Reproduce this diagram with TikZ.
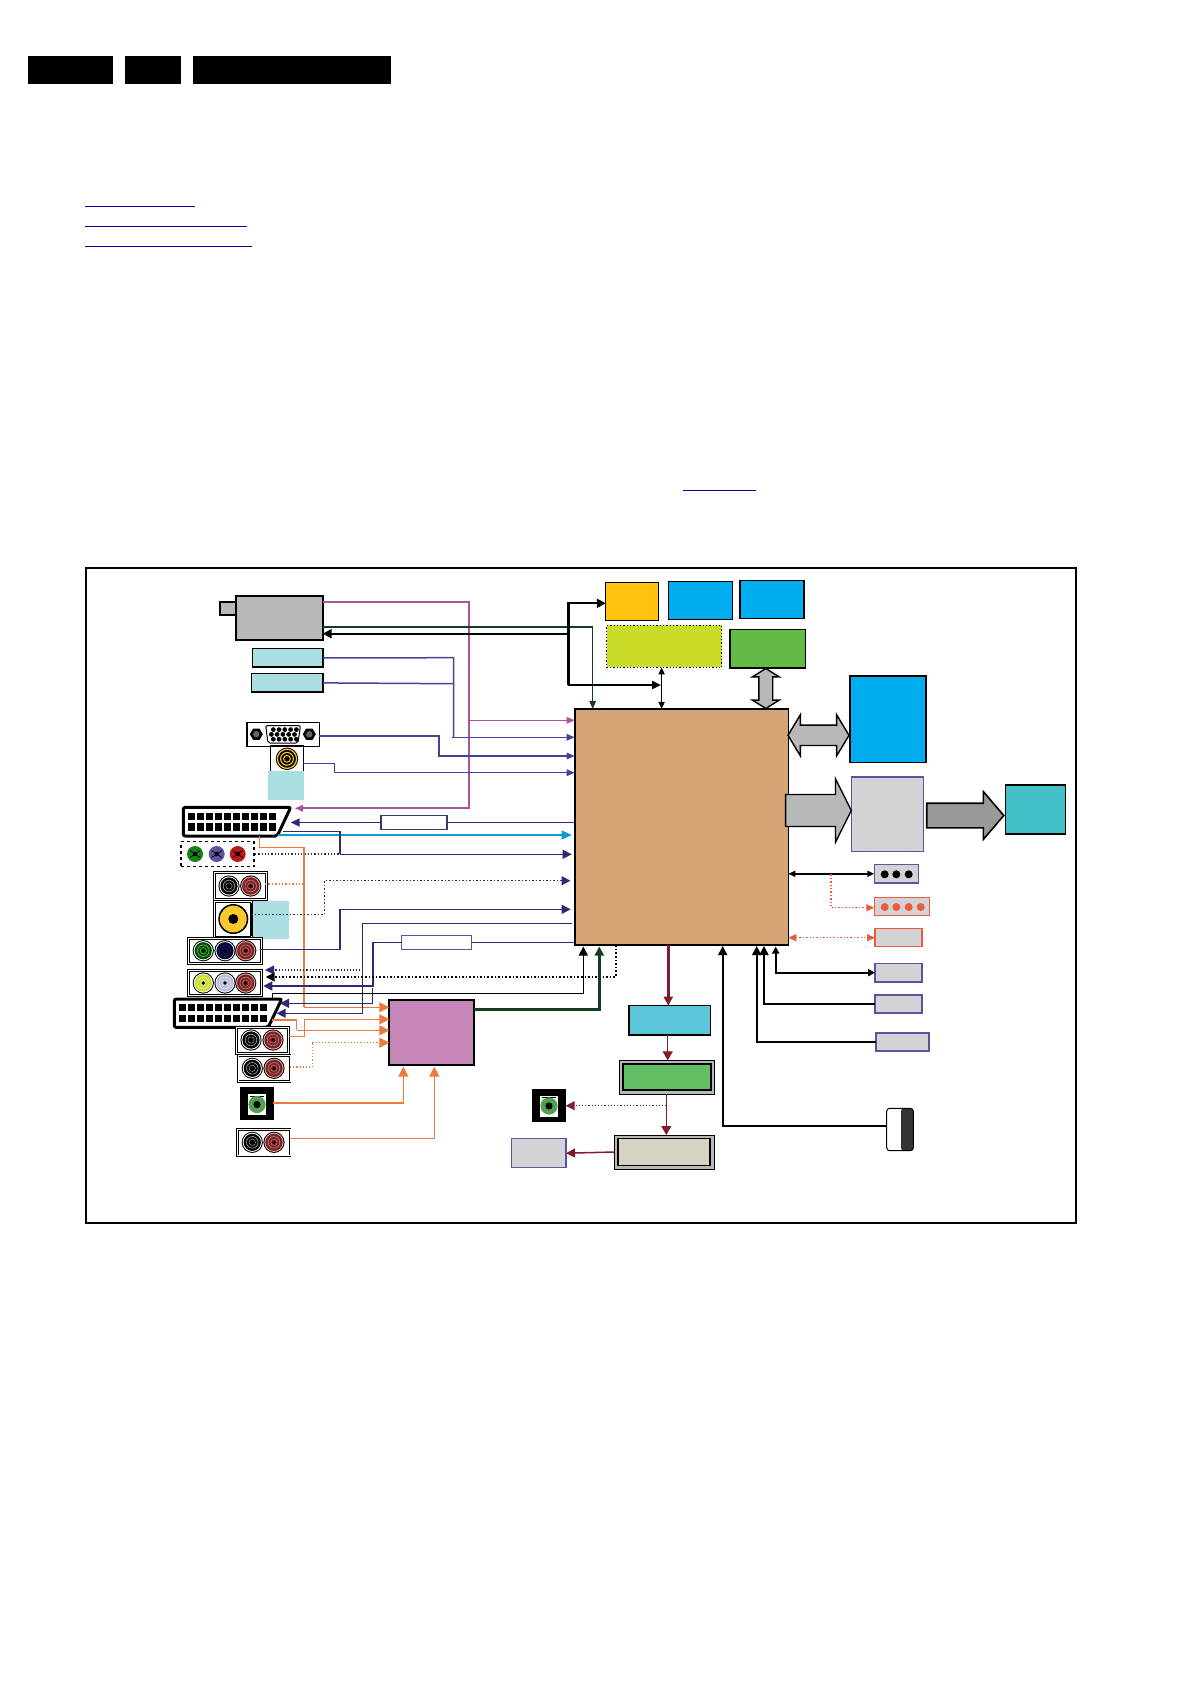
\documentclass[tikz,border=0pt]{standalone}
\usetikzlibrary{shapes.geometric, shapes.arrows, arrows.meta, positioning}

\definecolor{brownbox}{HTML}{D3A577}
\definecolor{tealpale}{HTML}{ABDEE0}
\definecolor{greybox}{HTML}{B7B8BA}
\definecolor{panelgrey}{HTML}{D1D3D4}
\definecolor{edgepurple}{HTML}{5B52A0}
\definecolor{lilac}{HTML}{A8559C}
\definecolor{navy}{HTML}{45429A}
\definecolor{deepnavy}{HTML}{2F2A78}
\definecolor{sky}{HTML}{0E9BD0}
\definecolor{carrot}{HTML}{EC7A3A}
\definecolor{pine}{HTML}{143C1E}
\definecolor{maroon}{HTML}{7F1D2A}
\definecolor{flame}{HTML}{EE5A3A}
\definecolor{plugred}{HTML}{7A2226}
\definecolor{plugpink}{HTML}{E8A9A5}
\definecolor{amberbox}{HTML}{FFC20E}
\definecolor{bluebox}{HTML}{00AEEF}
\definecolor{limebox}{HTML}{C8DC28}
\definecolor{leafbox}{HTML}{62BB46}
\definecolor{aquabox}{HTML}{43BFC7}
\definecolor{mixerbox}{HTML}{C586B8}
\definecolor{codecbox}{HTML}{5BC5DA}
\definecolor{ampbox}{HTML}{62BE62}
\definecolor{beigebox}{HTML}{D8D2C4}
\definecolor{plugyellow}{HTML}{F7C92E}

% round plug: x, y, fill, ring
\newcommand{\rcaplug}[4]{
  \fill[black] (#1,#2) circle (10.6);
  \fill[#4] (#1,#2) circle (9.6);
  \fill[#3] (#1,#2) circle (8.6);
  \draw[#4!60!#3, line width=0.7pt] (#1,#2) circle (5.8);
  \draw[#4!60!#3, line width=0.5pt] (#1,#2) circle (3.2);
  \fill[black] (#1,#2) circle (1.8);
}
% small jack: x, y
\newcommand{\jackplug}[2]{
  \fill[white] (#1-9,#2-10.5) rectangle (#1+9,#2+10.5);
  \fill[black] (#1-7,#2-9) rectangle (#1+7,#2-7.6);
  \fill[ampbox!85!black] (#1,#2) circle (8.6);
  \fill[black] (#1,#2) circle (3.6);
}
% two rows of scart holes: x, y of the first hole
\newcommand{\scartholes}[2]{
  \foreach \i in {0,...,9} {
    \fill[black] (#1+\i*9,#2) rectangle ++(7.2,7.4);
    \fill[black] (#1+\i*9,#2+10.6) rectangle ++(7.2,7.4);
  }
}

\begin{document}
\begin{tikzpicture}[
    x=1pt, y=-1pt,
    box/.style={draw, rectangle, inner sep=0pt, outer sep=0pt, line width=1.3pt},
    panel/.style={box, fill=panelgrey, draw=edgepurple, line width=1.5pt},
    socket/.style={box, fill=white, line width=0.9pt, double, double distance=1pt},
    wire/.style={-{Triangle[length=8pt,width=6.5pt]}, line width=1.5pt},
    plain/.style={line width=1.5pt},
    blk/.style={wire, black, line width=2.2pt},
    hdr/.style={draw=none, fill=black, inner sep=0pt, minimum height=28pt},
    link/.style={line width=1pt, color=blue!65!black},
    orng/.style={carrot, line width=1.5pt, -{Triangle[length=10pt,width=10pt]}},
    bigtip/.style={-{Triangle[length=9pt,width=9pt]}},
    block/.style={draw=black, line width=1.4pt, fill=greybox, inner sep=0pt, text depth=0pt}
]
\useasboundingbox (0,0) rectangle (1191,1684);

% Header and links
\node (barA) [hdr, minimum width=85pt] at (70.5,70) {};
\node (barB) [hdr, minimum width=56pt] at (153,70) {};
\node (barC) [hdr, minimum width=198pt] at (292,70) {};
\draw [link] (85,206.3) -- (195,206.3);
\draw [link] (85,226.3) -- (247,226.3);
\draw [link] (85,246.3) -- (252,246.3);
\draw [link] (683,490) -- (756,490);

\node (frame) [box, line width=1.6pt, minimum width=990pt, minimum height=655pt] at (581,895.5) {};

% Nodes
\node (main) [box, line width=1.6pt, fill=brownbox, minimum width=213.6pt, minimum height=236.3pt] at (681.5,827.1) {};
\node (tuner) [box, fill=greybox, line width=1.8pt, minimum width=87pt, minimum height=44.6pt] at (279.2,618) {};
\node (nub) [box, fill=greybox, minimum width=15.7pt, minimum height=13pt] at (227.9,608.5) {};
\node (cardA) [box, fill=tealpale, minimum width=70.7pt, minimum height=18.3pt] at (287.7,657.9) {};
\node (cardB) [box, fill=tealpale, minimum width=71.3pt, minimum height=18.3pt] at (287.4,682.9) {};

\node (vga) [box, fill=white, minimum width=72.5pt, minimum height=24pt] at (283.2,734.5) {};
\draw[black, fill=white, line width=1pt, rounded corners=2pt] (265.7,725.5) -- (300.5,725.5) -- (298,743) -- (268,743) -- cycle;
\foreach \x in {256.3,309.3} {
  \node [regular polygon, regular polygon sides=6, fill=black, inner sep=0pt, minimum size=13pt] at (\x,734.2) {};
  \fill[black!60] (\x,734.2) circle (3.2);
}
\foreach \x in {273.3,279,284.8,290.6,296.4} {
  \fill[black] (\x,729.6) circle (2.4);
  \fill[black] (\x-1.9,734.4) circle (2.4);
  \fill[black] (\x,739.2) circle (2.4);
}

\node (avyel) [box, fill=white, minimum width=33pt, minimum height=26pt] at (286.7,759) {};
\fill[black] (287,758.8) circle (11.2);
\draw[plugyellow, line width=1.2pt] (287,758.8) circle (9.6);
\draw[plugyellow, line width=1.1pt] (287,758.8) circle (6.4);
\draw[plugyellow, line width=1pt] (287,758.8) circle (3.4);
\node (patchA) [box, draw=none, fill=tealpale, minimum width=36.3pt, minimum height=29.3pt] at (286.2,785.3) {};

\node (scartA) [inner sep=0pt, outer sep=0pt, minimum width=107.4pt, minimum height=28.7pt] at (237,821.7) {};
\draw [black, fill=white, line width=3pt, rounded corners=2pt] (scartA.north west) -- (scartA.north east) -- ([xshift=-13.5pt]scartA.south east) -- (scartA.south west) -- cycle;
\scartholes{187.7}{812.7}

\node (compA) [draw, dashed, line width=1.8pt, inner sep=0pt, minimum width=73pt, minimum height=25pt] at (217.5,854) {};
\foreach \x/\c in {195/green!45!black!90!white, 216.7/edgepurple, 237.7/red!70!black!90!white} {
  \fill[\c] (\x,854) circle (8);
  \fill[black] (\x,854) circle (2.2);
  \draw[black, line width=0.7pt] (\x-5,850.5) -- (\x+5,857.5) (\x+5,850.5) -- (\x-5,857.5);
}

\node (rcaA) [socket, minimum width=52pt, minimum height=27pt] at (240.7,886) {};
\rcaplug{229}{886}{black}{white}
\rcaplug{250.7}{886}{plugred}{plugpink}

\node (patchB) [box, draw=none, fill=tealpale, minimum width=39.4pt, minimum height=37.4pt] at (269,920) {};
\node (avbig) [socket, minimum width=37pt, minimum height=36pt] at (232.7,919.3) {};
\fill[black] (233.3,919) circle (15);
\fill[plugyellow] (233.3,919) circle (13.4);
\fill[black] (233.3,919) circle (5);
\draw[black, line width=1pt] (251.7,903) -- (251.7,936);

\node (rcaB) [socket, minimum width=73pt, minimum height=25pt] at (225.3,950.7) {};
\rcaplug{203.3}{950.7}{black!70!green}{white}
\rcaplug{225}{950.7}{blue!25!black}{white}
\rcaplug{245.7}{950.7}{plugred}{plugpink}

\node (rcaC) [socket, minimum width=73pt, minimum height=25pt] at (224.7,983) {};
\rcaplug{203.3}{983}{limebox}{white}
\rcaplug{225}{983}{edgepurple!40!white}{white}
\rcaplug{245.7}{983}{plugred}{plugpink}

\node (scartB) [inner sep=0pt, outer sep=0pt, minimum width=107.4pt, minimum height=28.3pt] at (228,1013.2) {};
\draw [black, fill=white, line width=3pt, rounded corners=2pt] (scartB.north west) -- (scartB.north east) -- ([xshift=-13.5pt]scartB.south east) -- (scartB.south west) -- cycle;
\scartholes{179}{1004}

\node (rcaD) [socket, minimum width=52pt, minimum height=26pt] at (262.5,1040.3) {};
\rcaplug{251}{1040}{black}{white}
\rcaplug{273}{1040}{plugred}{plugpink}
\node (rcaE) [socket, minimum width=52pt, minimum height=26pt] at (264,1068.6) {};
\rcaplug{252.3}{1068.3}{black}{white}
\rcaplug{274}{1068.3}{plugred}{plugpink}
\node (rcaF) [socket, minimum width=52.5pt, minimum height=26.5pt] at (263.8,1142.7) {};
\rcaplug{252.3}{1142.3}{black}{white}
\rcaplug{274}{1142.3}{plugred}{plugpink}

\node (jackA) [box, fill=black, minimum width=32.3pt, minimum height=31.3pt] at (257.2,1103.7) {};
\jackplug{257}{1104.5}
\node (jackB) [box, fill=black, minimum width=33.4pt, minimum height=32.4pt] at (549,1105.5) {};
\jackplug{549}{1106}

\node (slabA) [box, fill=white, draw=edgepurple!70!black, minimum width=66pt, minimum height=13.6pt] at (414,822.5) {};
\node (slabB) [box, fill=white, draw=edgepurple, minimum width=70pt, minimum height=13.6pt] at (436.7,942.5) {};
\node (mixer) [box, line width=1.8pt, fill=mixerbox, minimum width=85pt, minimum height=65.3pt] at (431.8,1032.7) {};

\node (amber) [box, fill=amberbox, minimum width=53pt, minimum height=38pt] at (632.3,601.3) {};
\node (blueA) [box, fill=bluebox, minimum width=64.5pt, minimum height=37.6pt] at (700.5,600.5) {};
\node (blueB) [box, fill=bluebox, minimum width=64pt, minimum height=38pt] at (772,599.7) {};
\node (lime) [box, dotted, fill=limebox, minimum width=115pt, minimum height=42pt] at (664.3,646.3) {};
\node (leaf) [box, fill=leafbox, minimum width=75.5pt, minimum height=38.3pt] at (767.8,648.8) {};
\node (store) [box, fill=bluebox, minimum width=76pt, minimum height=86.3pt] at (888,719.2) {};
\node (screen) [panel, minimum width=72pt, minimum height=74.3pt] at (887.6,814.2) {};
\node (aqua) [box, fill=aquabox, minimum width=60pt, minimum height=49pt] at (1035.5,809.5) {};

\node (keysA) [panel, minimum width=44.4pt, minimum height=18.3pt] at (896.5,873.8) {};
\foreach \x in {884.7,896.3,908.7} \fill[black] (\x,874.3) circle (4);
\node (keysB) [panel, draw=flame, minimum width=55pt, minimum height=18pt] at (901.8,906.7) {};
\foreach \x in {884.7,896.3,908.7,920.7} \fill[flame] (\x,907) circle (4);
\node (portA) [panel, draw=flame, minimum width=47pt, minimum height=18pt] at (898.5,937.7) {};
\node (portB) [panel, minimum width=47pt, minimum height=18.7pt] at (898.5,972.7) {};
\node (portC) [panel, line width=1.7pt, minimum width=47pt, minimum height=18.6pt] at (898.5,1004) {};
\node (portD) [panel, line width=1.7pt, minimum width=53.6pt, minimum height=18.3pt] at (902.5,1041.8) {};

\node (codec) [box, fill=codecbox, minimum width=81.3pt, minimum height=29.3pt] at (669.7,1020.3) {};
\node (ampFrame) [box, fill=greybox, line width=0.8pt, minimum width=95.4pt, minimum height=33.7pt] at (667,1077.2) {};
\node (amp) [box, fill=ampbox, line width=1.7pt, minimum width=88pt, minimum height=26pt] at (667,1077.2) {};
\node (speakFrame) [box, fill=greybox, line width=0.8pt, minimum width=99.3pt, minimum height=34pt] at (664.3,1152) {};
\node (speak) [box, fill=beigebox, line width=1.7pt, minimum width=92pt, minimum height=27pt] at (664.3,1152) {};
\node (sink) [panel, line width=1.2pt, minimum width=54.7pt, minimum height=29pt] at (538.7,1153.2) {};
\node (toggle) [draw=black, line width=1pt, rounded corners=3pt, fill=white, inner sep=0pt, minimum width=26.6pt, minimum height=42.4pt,
    path picture={\fill[black!80] ([xshift=1pt]path picture bounding box.north) rectangle (path picture bounding box.south east);}] at (900,1129.5) {};

% Block arrows
\node (drvV) [block, double arrow, rotate=90, text height=12.4pt, minimum height=40pt, minimum width=25.6pt, double arrow head extend=6.6pt, double arrow tip angle=116] at (765.8,688.5) {};
\node (drvH) [block, double arrow, text height=19pt, minimum height=61pt, minimum width=40pt, double arrow head extend=10.5pt, double arrow tip angle=118] at (818.5,735.3) {};
\node (drvA) [block, single arrow, text height=30.6pt, minimum height=65.6pt, minimum width=62pt, single arrow head extend=15.7pt, single arrow tip angle=127] at (814.5,810.5) {};
\node (drvB) [block, fill=black!40, line width=1.6pt, single arrow, text height=23pt, minimum height=77pt, minimum width=46pt, single arrow head extend=11.5pt, single arrow tip angle=99] at (960,815.5) {};

% Connectors
\draw [wire, lilac, line width=1.7pt] (tuner.east |- 0,602) -- (469,602) -- (469,808.3) -- (295,808.3);
\draw [wire, lilac] (469,720.3) -- (main.west |- 0,720.3);
\draw [wire, pine] (tuner.east |- 0,627) -- (592.7,627) -- (main.north -| 592.7,0);
\draw [blk, -{Triangle[length=9pt,width=9pt]}] (568.4,633.7) -- (tuner.east |- 0,633.7);
\draw [blk, -{Triangle[length=9pt,width=9pt]}] (568.4,685) |- (amber.west |- 0,603.3);
\draw [blk, -{Triangle[length=9pt,width=8pt]}] (568.4,685) -- (661,685);
\draw [{Triangle[length=7pt,width=6pt]}-{Triangle[length=7pt,width=6pt]}, line width=1.5pt] (lime.south -| 661.6,0) -- (main.north -| 661.6,0);

\draw [plain, navy] (cardA.east) -- (453.7,657.7) -- (453.7,737.3);
\draw [plain, navy] (cardB.east) -- (453.7,683.7);
\draw [wire, navy] (452.3,737.3) -- (main.west |- 0,737.3);
\draw [wire, navy] (vga.east |- 0,736) -- (439,736) -- (439,756) -- (main.west |- 0,756);
\draw [wire, navy] (avyel.east |- 0,763.7) -- (334.7,763.7) -- (334.7,772.7) -- (main.west |- 0,772.7);

\draw [plain, deepnavy] (main.west |- slabA.east) -- (slabA.east);
\draw [wire, deepnavy, -{Triangle[length=9pt,width=8pt]}] (slabA.west) -- (290.7,822.5);
\draw [wire, sky, -{Triangle[length=10pt,width=9pt]}] (278,835) -- (571.7,835);
\draw [plain, deepnavy] (283.3,831.7) -- (340,831.7) -- (340,854.3);
\draw [wire, deepnavy, -{Triangle[length=9pt,width=9pt]}] (340,854.3) -- (571.7,854.3);
\draw [deepnavy, dotted, line width=1.3pt] (compA.east) -- (340,854);

\draw [plain, carrot] (259.3,836) -- (259.3,847.3) -- (304,847.3) -- (304,1007.3);
\draw [orng] (304,1007.3) -- (mixer.west |- 0,1007.3);
\draw [carrot, dotted, line width=1.4pt] (265,884) -- (303.3,884);
\draw [deepnavy, dotted, line width=1.5pt, bigtip] (avbig.east |- 0,914.7) -- (324.3,914.7) -- (324.3,880.7) -- (570.5,880.7);
\draw [deepnavy, line width=1.5pt, bigtip] (260,949.3) -- (340,949.3) -- (340,909.3) -- (570.7,909.3);
\draw [deepnavy, line width=1pt, bigtip] (572,923.3) -- (362.3,923.3) -- (362.3,1013.3) -- (276.7,1013.3);
\draw [plain, deepnavy, line width=1.7pt] (main.west |- slabB.east) -- (slabB.east);
\draw [deepnavy, line width=1.7pt, bigtip] (slabB.west) -- (372.7,942.5) -- (372.7,986) -- (263.3,986);
\draw [deepnavy, line width=1.2pt, bigtip] (372.7,988) -- (372.7,1003.3) -- (280,1003.3);
\draw [deepnavy, dotted, line width=1.1pt, bigtip] (363.3,970) -- (265,970);
\draw [black, dotted, line width=1.6pt, bigtip] (main.south -| 615.7,0) -- (615.7,977) -- (265.7,977);
\draw [black, line width=1pt, bigtip] (272.7,998) -- (272.7,993.3) -- (583.3,993.3) -- (583.3,946.5);
\draw [pine, line width=2.4pt, bigtip] (mixer.east |- 0,1009.3) -- (599.3,1009.3) -- (599.3,946.5);

\draw [plain, carrot] (271.7,1020) -- (296.7,1020) -- (296.7,1030.3);
\draw [orng] (296.7,1030.3) -- (mixer.west |- 0,1030.3);
\draw [plain, carrot] (rcaD.east |- 0,1036.7) -- (304.3,1036.7) -- (304.3,1019.3);
\draw [orng] (304.3,1019.3) -- (mixer.west |- 0,1019.3);
\draw [carrot, dotted, line width=1.2pt] (rcaE.east |- 0,1067) -- (312.3,1067) -- (312.3,1042.7);
\draw [carrot, dotted, line width=1.2pt, -{Triangle[length=10pt,width=10pt]}] (312.3,1042.7) -- (mixer.west |- 0,1042.7);
\draw [orng] (jackA.east |- 0,1103) -- (403.3,1103) -- (403.3,1066.7);
\draw [orng] (rcaF.east |- 0,1138.7) -- (434.3,1138.7) -- (434.3,1066.7);

\draw [maroon, line width=2.4pt, bigtip] (main.south -| 668.3,0) -- (codec.north -| 668.3,0);
\draw [maroon, line width=1.2pt, -{Triangle[length=9pt,width=10pt]}] (codec.south -| 667.7,0) -- (ampFrame.north -| 667.7,0);
\draw [maroon, line width=1.2pt, -{Triangle[length=9pt,width=10pt]}] (ampFrame.south -| 666.3,0) -- (speakFrame.north -| 666.3,0);
\draw [maroon, dotted, line width=1.2pt, bigtip] (666.3,1105.7) -- (jackB.east |- 0,1105.7);
\draw [maroon, line width=1.5pt, bigtip] (speakFrame.west) -- (sink.east);

\draw [black, line width=1.6pt, bigtip] (toggle.west |- 0,1126) -- (722.7,1126) -- (722.7,946);
\draw [black, line width=1.6pt, bigtip] (portD.west) -- (756.7,1041.8) -- (756.7,946);
\draw [black, line width=1.6pt, bigtip] (portC.west) -- (764,1004) -- (764,946);
\draw [black, line width=1.8pt, {Triangle[length=7pt,width=7pt]}-{Triangle[length=7pt,width=7pt]}] (775.7,946.5) -- (775.7,972.7) -- (portB.west);
\draw [black, line width=1.6pt, {Triangle[length=7pt,width=6pt]}-{Triangle[length=7pt,width=6pt]}] (main.east |- keysA.west) -- (keysA.west);
\draw [flame, dotted, line width=1.4pt, -{Triangle[length=8pt,width=7pt]}] (831,874.3) -- (831,907.7) -- (keysB.west |- 0,907.7);
\draw [flame, dotted, line width=1.4pt, {Triangle[length=8pt,width=7pt]}-{Triangle[length=8pt,width=7pt]}] (main.east |- portA.west) -- (portA.west);

\end{tikzpicture}
\end{document}
